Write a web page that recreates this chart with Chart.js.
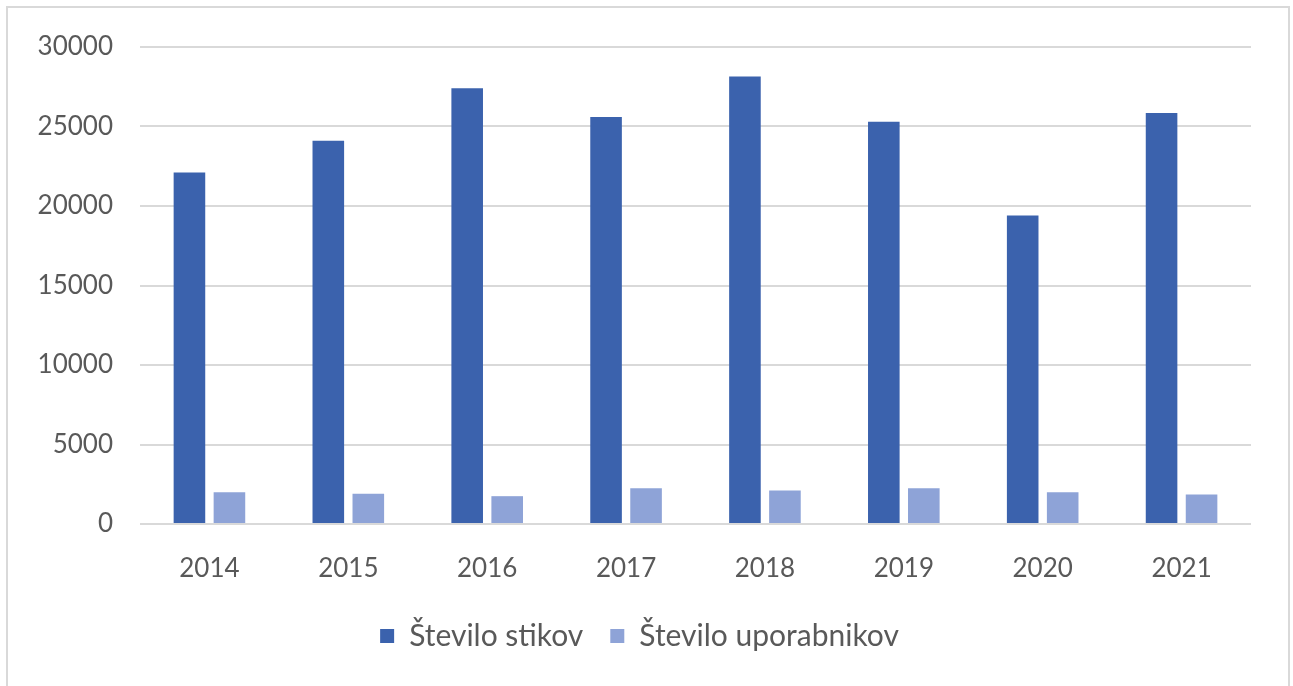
<!DOCTYPE html>
<html>
<head>
<meta charset="utf-8">
<script src="https://cdn.jsdelivr.net/npm/chart.js@4/dist/chart.umd.min.js"></script>
<style>
  html, body { margin: 0; padding: 0; background: #fff; }
  #wrap { position: relative; width: 1293px; height: 686px; }
  #frame { position: absolute; left: 6px; top: 6px; right: 3px; bottom: -2px; border: 2px solid #d9d9d9; border-bottom: none; pointer-events: none; }
  canvas { position: absolute; left: 0; top: 0; }
</style>
</head>
<body>
<div id="wrap">
  <canvas id="chart" width="1293" height="686"></canvas>
  <div id="frame"></div>
</div>
<script>
const years = ['2014', '2015', '2016', '2017', '2018', '2019', '2020', '2021'];
const steviloStikov = [22100, 24100, 27400, 25600, 28150, 25300, 19400, 25850];
const steviloUporabnikov = [2000, 1900, 1750, 2250, 2100, 2250, 2000, 1850];
const seriesNames = ['Število stikov', 'Število uporabnikov'];

const textColor = '#595959';
const fontFamily = 'Lato, "Open Sans", sans-serif';

const chart = new Chart(document.getElementById('chart'), {
  type: 'bar',
  data: {
    labels: years,
    datasets: [
      { label: seriesNames[0], data: steviloStikov, backgroundColor: '#3b62ad' },
      { label: seriesNames[1], data: steviloUporabnikov, backgroundColor: '#8ea3d7' }
    ]
  },
  options: {
    responsive: false,
    animation: false,
    categoryPercentage: 0.576,
    barPercentage: 0.79,
    layout: { padding: { left: 28, right: 42, top: 47, bottom: 25 } },
    plugins: {
      tooltip: { enabled: false },
      legend: {
        position: 'bottom',
        labels: {
          color: textColor,
          boxWidth: 14,
          boxHeight: 14,
          padding: 27,
          font: { family: fontFamily, size: 30, lineHeight: 1 }
        }
      }
    },
    scales: {
      x: {
        grid: { display: false },
        border: { display: false },
        ticks: { color: textColor, padding: 24, font: { family: fontFamily, size: 26, lineHeight: 1 } },
        afterFit: s => { s.height = 70; }
      },
      y: {
        min: 0,
        max: 30000,
        ticks: {
          stepSize: 5000,
          color: textColor,
          padding: 27,
          font: { family: fontFamily, size: 26, lineHeight: 1 },
          callback: v => String(v)
        },
        grid: { color: '#d9d9d9', lineWidth: 2, drawTicks: false },
        border: { display: false },
        afterFit: s => { s.width = 112; }
      }
    }
  }
});
</script>
</body>
</html>
